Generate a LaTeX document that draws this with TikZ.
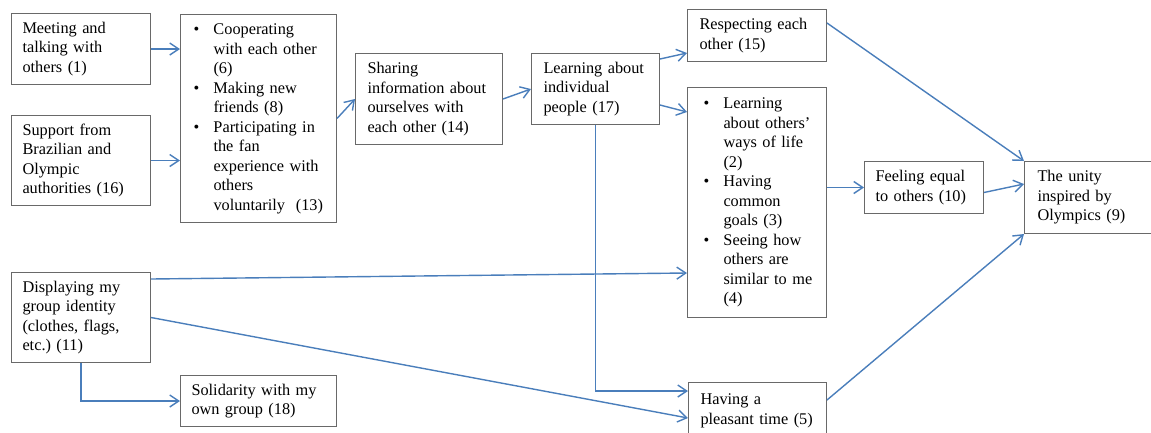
\documentclass[tikz,border=0pt]{standalone}
\usepackage{fontspec}
\setmainfont{Liberation Serif}
\usetikzlibrary{arrows.meta}

\definecolor{linkblue}{RGB}{74,126,187}
\definecolor{framegray}{RGB}{105,105,105}

% text set inside the boxes
\newcommand\boxfont{\fontsize{16.3}{19.5}\selectfont\frenchspacing}
\newcommand\bl{\makebox[20pt][l]{\textbullet}}
\newcommand\nb{\hspace*{20pt}}
\newcommand\lines[1]{\begin{tabular}{@{}l@{}}#1\end{tabular}}

\begin{document}
\begin{tikzpicture}[x=1pt,y=-1pt,
  box/.style={draw=framegray, line width=1pt, rectangle, anchor=north west,
    inner xsep=11pt, inner ysep=0pt, align=left, font=\boxfont},
  link/.style={draw=linkblue, line width=1.4pt,
    -{Straight Barb[length=9pt,width=12pt,line width=1.4pt]}}
]
\useasboundingbox (0,0) rectangle (1151,432);

% first column
\node[box, minimum width=139pt, minimum height=71pt, text width=117pt] (meet) at (11,13)
  {\lines{Meeting and\\talking with\\others (1)}};
\node[box, minimum width=139pt, minimum height=90pt, text width=117pt] (support) at (11,115)
  {\lines{Support from\\Brazilian and\\Olympic\\authorities (16)}};
\node[box, minimum width=139pt, minimum height=90pt, text width=117pt] (display) at (11,272)
  {\lines{Displaying my\\group identity\\(clothes, flags,\\etc.) (11)}};

% second column
\node[box, minimum width=156pt, minimum height=208pt, text width=130pt, inner xsep=13pt] (coop) at (180,14)
  {\lines{\bl Cooperating\\\nb with each other\\\nb (6)\\\bl Making new\\\nb friends (8)\\\bl Participating in\\\nb the fan\\\nb experience with\\\nb others\\\nb voluntarily~ (13)}};
\node[box, minimum width=156pt, minimum height=51pt, text width=134pt] (solid) at (180,375)
  {\lines{Solidarity with my\\own group (18)}};

% middle
\node[box, minimum width=147pt, minimum height=91pt, text width=123pt, inner xsep=12pt] (share) at (355,53)
  {\lines{Sharing\\information about\\ourselves with\\each other (14)}};
\node[box, minimum width=128pt, minimum height=71pt, text width=104pt, inner xsep=12pt] (indiv) at (531,53)
  {\lines{Learning about\\individual\\people (17)}};

% fourth column
\node[box, minimum width=139pt, minimum height=52pt, text width=115pt, inner xsep=12pt] (respect) at (687,9)
  {\lines{Respecting each\\other (15)}};
\node[box, minimum width=139pt, minimum height=230pt, text width=107pt, inner xsep=16pt] (ways) at (687,87)
  {\lines{\bl Learning\\\nb about others’\\\nb ways of life\\\nb (2)\\\bl Having\\\nb common\\\nb goals (3)\\\bl Seeing how\\\nb others are\\\nb similar to me\\\nb (4)}};
\node[box, minimum width=138pt, minimum height=56pt, text width=114pt, inner xsep=12pt] (pleasant) at (688,382)
  {\lines{Having a\\pleasant time (5)}};

% right side
\node[box, minimum width=119pt, minimum height=52pt, text width=97pt] (equal) at (864,161)
  {\lines{Feeling equal\\to others (10)}};
\node[box, minimum width=140pt, minimum height=72pt, text width=114pt, inner xsep=13pt] (unity) at (1024,161)
  {\lines{The unity\\inspired by\\Olympics (9)}};

% connectors
\draw[link] (meet.east) -- (meet.east -| coop.west);
\draw[link] (support.east) -- (support.east -| coop.west);
\draw[link] (coop.east) -- (share.west);
\draw[link] (share.east) -- (indiv.west);
\draw[link] ([yshift=-6pt]indiv.north east) -- ([yshift=9pt]respect.south west);
\draw[link] ([yshift=20pt]indiv.south east) -- ([yshift=-25pt]ways.north west);
\draw[link] (indiv.south) |- ([yshift=-9pt]pleasant.north west);
\draw[link] ([yshift=-7pt]display.north east) -- ([yshift=45pt]ways.south west);
\draw[link] (display.east) -- ([yshift=-36pt]pleasant.north west);
\draw[link] (display.south) |- (solid.west);
\draw[link] (equal.west -| ways.east) -- (equal.west);
\draw[link] ([yshift=-14pt]respect.north east) -- (unity.north west);
\draw[link] ([yshift=-5pt]equal.east) -- ([yshift=-23pt]unity.north west);
\draw[link] ([yshift=-18pt]pleasant.north east) -- (unity.south west);
\end{tikzpicture}
\end{document}
